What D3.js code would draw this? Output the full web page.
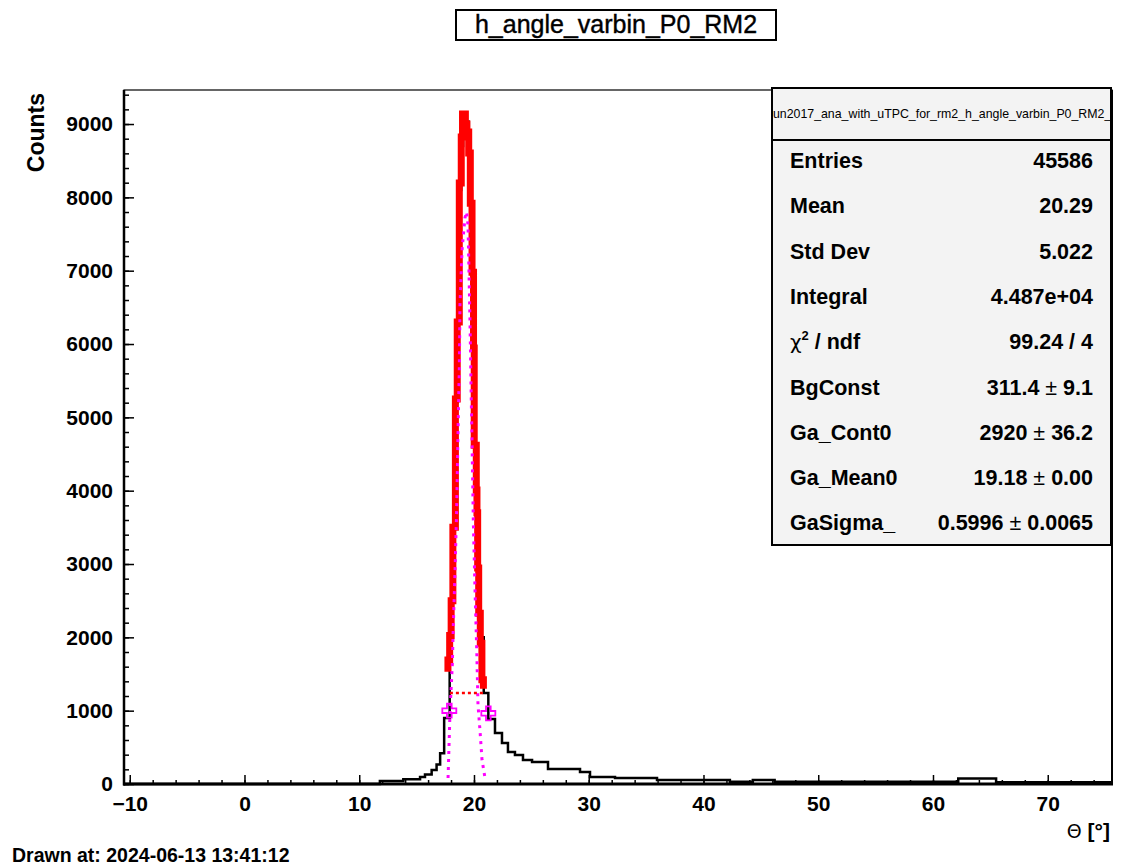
<!DOCTYPE html>
<html>
<head>
<meta charset="utf-8">
<script src="https://cdn.jsdelivr.net/npm/d3@7/dist/d3.min.js"></script>
<style>
  html, body { margin: 0; padding: 0; background: #fff; }
  svg { display: block; }
</style>
</head>
<body>
<svg id="chart" width="1140" height="866"></svg>
<script>
// ---------------- data ----------------
const histEdges = [-10.5, 11.8, 13.84, 15.3, 15.73, 16.31, 16.74, 17.05, 17.4, 17.88, 18.01, 18.16, 18.38,
  18.54, 18.72, 18.89, 19.05, 19.55, 19.68, 19.83, 19.96, 20.02, 20.2, 20.32, 20.41, 20.55, 20.85, 21.25,
  21.83, 22.44, 22.96, 23.57, 24.27, 25.06, 26.45, 29.24, 30.11, 32.29, 35.95, 42.3, 44.3, 46.2, 62.2, 65.5, 75.6];
const histCounts = [0, 40, 65, 95, 130, 190, 265, 420, 900, 1900, 2400, 3500,
  5200, 6400, 8100, 8700, 9030, 8500, 7850, 6900, 5900, 4600, 3800, 2900, 2300, 2000, 1240,
  886, 695, 559, 436, 395, 327, 300, 205, 164, 95, 82, 55, 30, 55, 30, 75, 25];

const fitEdges = [17.73, 17.88, 18.01, 18.16, 18.38, 18.54, 18.72, 18.89, 19.0, 19.25, 19.38, 19.54,
  19.68, 19.83, 19.96, 20.02, 20.2, 20.26, 20.32, 20.41, 20.55, 20.69, 20.82];
const fitCounts = [1690, 2025, 2500, 3500, 5250, 6300, 8196, 8823, 9136, 9000, 8890,
  8605, 7920, 6980, 5945, 4620, 4010, 3700, 2945, 2330, 1920, 1420];
const fitStartEnd = [1530, 1300];

const gausX = [17.74, 17.91, 18.11, 18.20, 18.35, 18.49, 18.63, 18.72, 18.78, 18.96, 19.21, 19.35,
  19.48, 19.65, 19.74, 19.85, 19.94, 20.09, 20.24, 20.35, 20.52, 20.70, 20.96];
const gausY = [82, 982, 1623, 2168, 2918, 3736, 4964, 5645, 6532, 7282, 7718, 7800,
  7623, 6327, 5441, 4486, 3600, 2645, 1827, 1077, 736, 327, 82];

const markX = [17.85, 21.25];
const markY = [1000, 964];
const levelX = [17.9, 20.8];
const levelY = 1240;

const xMajorTicks = [-10, 0, 10, 20, 30, 40, 50, 60, 70];
const xMinorTicks = d3.range(-10, 76, 2);
const yMajorTicks = [0, 1000, 2000, 3000, 4000, 5000, 6000, 7000, 8000, 9000];
const yMinorTicks = d3.range(0, 9465, 200);

const statLabels = ["Entries", "Mean", "Std Dev", "Integral", "CHI", "BgConst", "Ga_Cont0", "Ga_Mean0", "GaSigma_"];
const statValues = ["45586", "20.29", "5.022", "4.487e+04", "99.24 / 4", "311.4 \u00b1 9.1", "2920 \u00b1 36.2", "19.18 \u00b1 0.00", "0.5996 \u00b1 0.0065"];

const titleText = "h_angle_varbin_P0_RM2";
const statTitle = "run2017_ana_with_uTPC_for_rm2_h_angle_varbin_P0_RM2_1";

// ---------------- layout ----------------
const frame = { left: 124, right: 1112, top: 90, bottom: 784 };
const svg = d3.select("#chart");
const FONT = "'Liberation Sans', Arial, Helvetica, sans-serif";

const x = d3.scaleLinear().domain([-10.5, 75.6]).range([frame.left, frame.right]);
const y = d3.scaleLinear().domain([0, 9464]).range([frame.bottom, frame.top]);

svg.append("rect").attr("width", 1140).attr("height", 866).attr("fill", "#fff");

// frame
svg.append("rect")
  .attr("x", frame.left).attr("y", frame.top)
  .attr("width", frame.right - frame.left).attr("height", frame.bottom - frame.top)
  .attr("fill", "none").attr("stroke", "#000").attr("stroke-width", 1.2);

// ---------------- histogram ----------------
let hp = `M${x(histEdges[0])},${y(histCounts[0])}`;
for (let i = 0; i < histCounts.length; i++) {
  hp += `H${x(histEdges[i + 1])}`;
  if (i + 1 < histCounts.length) hp += `V${y(histCounts[i + 1])}`;
}
svg.append("path").attr("d", hp).attr("fill", "none")
  .attr("stroke", "#000").attr("stroke-width", 2.5).attr("stroke-linejoin", "miter");

// red fit curve (thick)
let fp = `M${x(fitEdges[0])},${y(fitStartEnd[0])}V${y(fitCounts[0])}`;
for (let i = 0; i < fitCounts.length; i++) {
  fp += `H${x(fitEdges[i + 1])}`;
  if (i + 1 < fitCounts.length) fp += `V${y(fitCounts[i + 1])}`;
}
fp += `V${y(fitStartEnd[1])}`;
svg.append("path").attr("d", fp).attr("fill", "none")
  .attr("stroke", "#ff0000").attr("stroke-width", 7).attr("stroke-linejoin", "miter");

// magenta dotted gaussian
const gline = d3.line().x(d => x(d[0])).y(d => y(d[1]));
svg.append("path").attr("d", gline(gausX.map((v, i) => [v, gausY[i]])))
  .attr("fill", "none").attr("stroke", "#ff00ff").attr("stroke-width", 3)
  .attr("stroke-dasharray", "3 5");

// red dotted level line
svg.append("line")
  .attr("x1", x(levelX[0])).attr("x2", x(levelX[1]))
  .attr("y1", y(levelY)).attr("y2", y(levelY))
  .attr("stroke", "#ff0000").attr("stroke-width", 2.5).attr("stroke-dasharray", "3 3");

// open-cross markers
const crossPath = (cx, cy, s) => {
  const a = s / 2, b = s / 6;
  return `M${cx - b},${cy - a}H${cx + b}V${cy - b}H${cx + a}V${cy + b}H${cx + b}V${cy + a}H${cx - b}V${cy + b}H${cx - a}V${cy - b}H${cx - b}Z`;
};
svg.selectAll(".mk").data(markX.map((v, i) => [v, markY[i]])).join("path")
  .attr("d", d => crossPath(x(d[0]), y(d[1]), 14))
  .attr("fill", "none").attr("stroke", "#ff00ff").attr("stroke-width", 1.8);

// ---------------- axes ----------------
const gx = svg.append("g").attr("transform", `translate(0,${frame.bottom})`);
gx.call(d3.axisBottom(x).tickValues(xMinorTicks).tickSize(-4).tickFormat(""));
gx.call(g => g.select(".domain").remove());
const gx2 = svg.append("g").attr("transform", `translate(0,${frame.bottom})`);
gx2.call(d3.axisBottom(x).tickValues(xMajorTicks).tickSize(-9).tickPadding(12).tickFormat(d3.format("d")));
gx2.select(".domain").remove();
svg.selectAll("g.tick line").attr("stroke", "#000").attr("stroke-width", 1.5);
gx2.selectAll("text").attr("font-family", FONT).attr("font-weight", "bold").attr("font-size", 21).attr("fill", "#000");

const gy = svg.append("g").attr("transform", `translate(${frame.left},0)`);
gy.call(d3.axisLeft(y).tickValues(yMinorTicks).tickSize(-5).tickFormat(""));
gy.select(".domain").remove();
const gy2 = svg.append("g").attr("transform", `translate(${frame.left},0)`);
gy2.call(d3.axisLeft(y).tickValues(yMajorTicks).tickSize(-10).tickPadding(11).tickFormat(d3.format("d")));
gy2.select(".domain").remove();
svg.selectAll("g.tick line").attr("stroke", "#000").attr("stroke-width", 1.5);
gy2.selectAll("text").attr("font-family", FONT).attr("font-weight", "bold").attr("font-size", 21).attr("fill", "#000");

// thick axis lines
svg.append("line").attr("x1", frame.left).attr("x2", frame.left).attr("y1", frame.top).attr("y2", frame.bottom + 1.5)
  .attr("stroke", "#000").attr("stroke-width", 2.5);
svg.append("line").attr("x1", frame.left - 1).attr("x2", frame.right + 1).attr("y1", frame.bottom).attr("y2", frame.bottom)
  .attr("stroke", "#000").attr("stroke-width", 3);
svg.append("line").attr("x1", frame.right).attr("x2", frame.right).attr("y1", frame.top).attr("y2", frame.bottom)
  .attr("stroke", "#000").attr("stroke-width", 2);

// axis titles
svg.append("text").attr("transform", `translate(44,${frame.top + 3}) rotate(-90)`)
  .attr("text-anchor", "end").attr("font-family", FONT).attr("font-weight", "bold")
  .attr("font-size", 23).text("Counts");
const xt = svg.append("text").attr("x", 1110).attr("y", 838).attr("text-anchor", "end")
  .attr("font-family", FONT).attr("font-size", 21);
xt.append("tspan").attr("font-family", "'DejaVu Sans', sans-serif").attr("font-size", 19).text("\u0398");
xt.append("tspan").attr("font-weight", "bold").text(" [\u00b0]");

// ---------------- title ----------------
svg.append("rect").attr("x", 456).attr("y", 10).attr("width", 320).attr("height", 30)
  .attr("fill", "#fff").attr("stroke", "#000").attr("stroke-width", 2);
svg.append("text").attr("x", 616).attr("y", 33).attr("text-anchor", "middle")
  .attr("font-family", FONT).attr("font-size", 25).attr("stroke", "#000").attr("stroke-width", 0.4)
  .text(titleText);

// ---------------- stats box ----------------
const sb = { x: 772, y: 88, w: 339, h: 457, head: 52 };
svg.append("rect").attr("x", sb.x).attr("y", sb.y).attr("width", sb.w).attr("height", sb.h)
  .attr("fill", "#f3f3f3").attr("stroke", "#000").attr("stroke-width", 2);
svg.append("line").attr("x1", sb.x).attr("x2", sb.x + sb.w).attr("y1", sb.y + sb.head).attr("y2", sb.y + sb.head)
  .attr("stroke", "#000").attr("stroke-width", 2);
svg.append("clipPath").attr("id", "sbclip").append("rect")
  .attr("x", sb.x + 1).attr("y", sb.y).attr("width", sb.w - 2).attr("height", sb.head);
svg.append("text").attr("clip-path", "url(#sbclip)")
  .attr("x", sb.x + sb.w / 2 + 2).attr("y", sb.y + 30).attr("text-anchor", "middle")
  .attr("font-family", FONT).attr("font-size", 12.35).text(statTitle);

const rowY = i => 168 + i * 45.3;
statLabels.forEach((lab, i) => {
  const t = svg.append("text").attr("x", 790).attr("y", rowY(i))
    .attr("font-family", FONT).attr("font-weight", "bold").attr("font-size", 21.5);
  if (lab === "CHI") {
    t.append("tspan").attr("font-weight", "normal").attr("font-family", "'DejaVu Sans', sans-serif").attr("font-size", 20).text("\u03c7");
    t.append("tspan").attr("font-size", 13).attr("dy", -9).text("2");
    t.append("tspan").attr("dy", 9).text(" / ndf");
  } else {
    t.text(lab);
  }
  const v = svg.append("text").attr("x", 1093).attr("y", rowY(i)).attr("text-anchor", "end")
    .attr("font-family", FONT).attr("font-weight", "bold").attr("font-size", 21.5);
  const parts = statValues[i].split("\u00b1");
  if (parts.length === 2) {
    v.append("tspan").text(parts[0]);
    v.append("tspan").attr("font-weight", "normal").text("\u00b1");
    v.append("tspan").text(parts[1]);
  } else {
    v.text(statValues[i]);
  }
});

// footer
svg.append("text").attr("x", 12).attr("y", 862).attr("font-family", FONT).attr("font-weight", "bold")
  .attr("font-size", 19.5).text("Drawn at: 2024-06-13 13:41:12");
</script>
</body>
</html>
